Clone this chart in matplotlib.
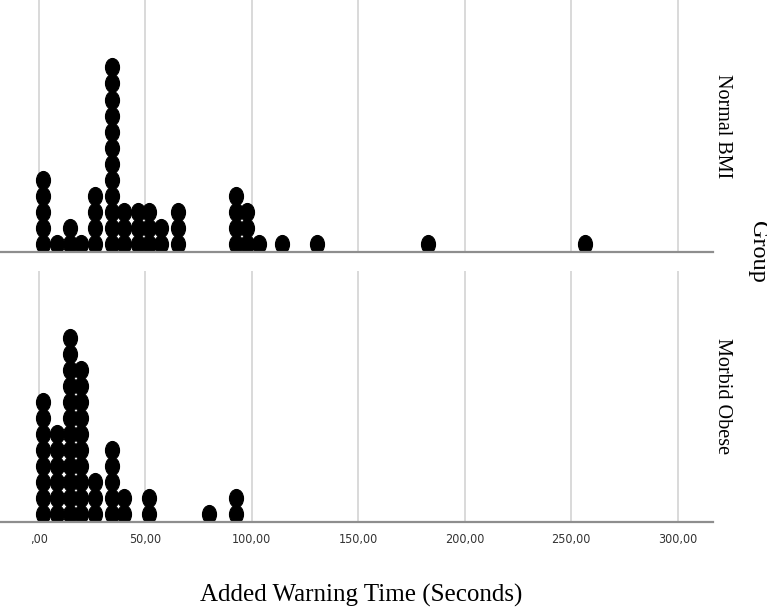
import numpy as np
import matplotlib
matplotlib.use("Agg")
import matplotlib.pyplot as plt
from matplotlib.path import Path

# dot columns: x position (seconds) and number of stacked dots
normal_x = [2, 8.5, 14.5, 20, 26.5, 34.5, 40, 46.5, 52, 57.5, 65.5, 92.5, 98, 103.5, 114, 130.5, 183, 256.5]
normal_n = [5, 1, 2, 1, 4, 12, 3, 3, 3, 2, 3, 4, 3, 1, 1, 1, 1, 1]
obese_x = [2, 8.5, 14.5, 20, 26.5, 34.5, 40, 52, 80, 92.5]
obese_n = [8, 6, 12, 10, 3, 5, 2, 2, 1, 2]
groups = ["Normal BMI", "Morbid Obese"]
xticks = [0, 50, 100, 150, 200, 250, 300]
xticklabels = [",00", "50,00", "100,00", "150,00", "200,00", "250,00", "300,00"]

# elliptical dot, a bit taller than wide
circ = Path.unit_circle()
dot = Path(circ.vertices * np.array([0.78, 1.0]), circ.codes)

fig = plt.figure(figsize=(7.67, 6.09), dpi=100)
ax1 = fig.add_axes([0, 1 - 252 / 609, 713 / 767, 252 / 609])
ax2 = fig.add_axes([0, 1 - 522 / 609, 713 / 767, 251 / 609])

for ax, xs, ns, name in [(ax1, normal_x, normal_n, groups[0]), (ax2, obese_x, obese_n, groups[1])]:
    for x, n in zip(xs, ns):
        ys = np.arange(n) + 0.5
        ax.plot([x] * n, ys, linestyle="none", marker=dot, markersize=13,
                color="black", markeredgecolor="black", markeredgewidth=0.8)
    ax.set_xlim(-18.2, 316.6)
    ax.set_ylim(0, 15.7)
    for t in xticks:
        ax.axvline(t, color="#cfcfcf", linewidth=1.1, zorder=0)
    for s in ["top", "right", "left"]:
        ax.spines[s].set_visible(False)
    ax.spines["bottom"].set_color("#8e8e8e")
    ax.spines["bottom"].set_linewidth(1.6)
    ax.set_yticks([])
    ax.set_xticks(xticks)
    ax.tick_params(axis="x", length=0, pad=8)
    ax.text(722 / 713, 0.5, name, transform=ax.transAxes, rotation=-90,
            ha="center", va="center", fontsize=14.5, family="Liberation Serif")

ax1.set_xticklabels([])
ax2.set_xticklabels(xticklabels, fontsize=9, color="#333333",
                    family="DejaVu Sans", stretch="condensed")

fig.text(758 / 767, 1 - 252 / 609, "Group", rotation=-90, ha="center", va="center",
         fontsize=17.5, family="Liberation Serif")
fig.text(361 / 767, 1 - 595 / 609, "Added Warning Time (Seconds)", ha="center", va="center",
         fontsize=18, family="Liberation Serif")

fig.savefig("out.png", dpi=100)
